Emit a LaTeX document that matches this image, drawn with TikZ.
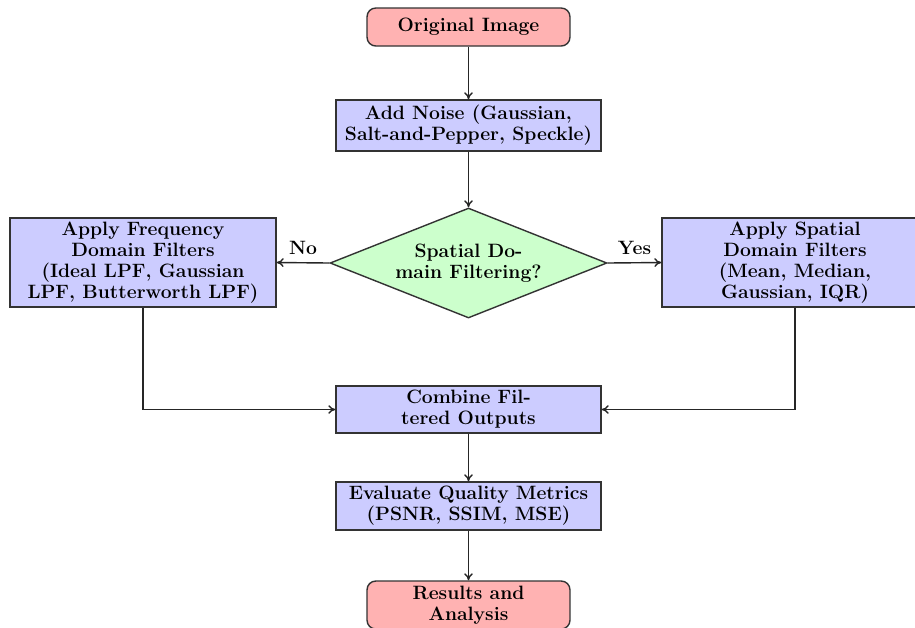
\documentclass[tikz,border=0pt]{standalone}
\usetikzlibrary{shapes.geometric,arrows.meta}
\begin{document}
\begin{tikzpicture}[x=0.02cm,y=-0.02cm,
  txt/.style={font=\fontsize{11}{12}\selectfont\bfseries},
  box/.style={draw=black!80,line width=0.8pt,fill=blue!20,align=center,inner sep=0pt,txt},
  term/.style={box,fill=red!30,rounded corners=5pt},
  decision/.style={draw=black!80,line width=0.8pt,fill=green!20,diamond,aspect=2.52,align=center,inner sep=0pt,txt},
  conn/.style={draw=black!85,line width=0.8pt,-{To[length=4pt,width=5pt]}},
  lab/.style={txt,inner sep=4pt}]
\useasboundingbox (0,0) rectangle (915,627);
\node[term,minimum width=4.06cm,minimum height=0.76cm] (orig) at (468.5,27) {Original Image};
\node[box,minimum width=5.3cm,minimum height=1.02cm] (noise) at (468.5,125.5) {Add Noise (Gaussian,\\Salt-and-Pepper, Speckle)};
\node[decision,minimum width=5.54cm,minimum height=2.2cm] (dec) at (468.5,263) {Spatial Do-\\main Filtering?};
\node[box,minimum width=5.32cm,minimum height=1.78cm] (freq) at (143,262.5) {Apply Frequency\\Domain Filters\\(Ideal LPF, Gaussian\\LPF, Butterworth LPF)};
\node[box,minimum width=5.32cm,minimum height=1.78cm] (spat) at (795,262.5) {Apply Spatial\\Domain Filters\\(Mean, Median,\\Gaussian, IQR)};
\node[box,minimum width=5.3cm,minimum height=0.94cm] (comb) at (468.5,409.5) {Combine Fil-\\tered Outputs};
\node[box,minimum width=5.3cm,minimum height=0.96cm] (eval) at (468.5,506) {Evaluate Quality Metrics\\(PSNR, SSIM, MSE)};
\node[term,minimum width=4.06cm,minimum height=0.96cm] (res) at (468.5,605) {Results and\\Analysis};
\draw[conn] (orig) -- (noise);
\draw[conn] (noise) -- (dec);
\draw[conn] (dec.west) -- node[lab,above] (no) {No} (freq.east);
\draw[conn] (dec.east) -- node[lab,above] (yes) {Yes} (spat.west);
\draw[conn] (freq.south) |- (comb.west);
\draw[conn] (spat.south) |- (comb.east);
\draw[conn] (comb) -- (eval);
\draw[conn] (eval) -- (res);
\end{tikzpicture}
\end{document}
